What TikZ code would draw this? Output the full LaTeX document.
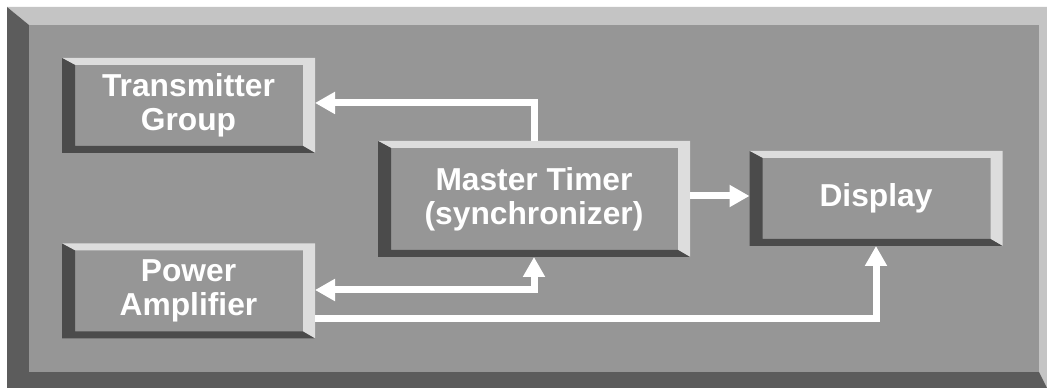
\documentclass[tikz,border=0pt]{standalone}
\usepackage{fontspec}
\setmainfont{Liberation Sans}
\usetikzlibrary{arrows.meta}
\definecolor{framelite}{HTML}{C4C4C4}
\definecolor{framedark}{HTML}{5C5C5C}
\definecolor{face}{HTML}{969696}
\definecolor{boxlite}{HTML}{DDDDDD}
\definecolor{boxdark}{HTML}{4B4B4B}
\tikzset{
  bevelbox/.style={fill=face,text=white,align=center,inner sep=0pt,outer sep=0pt,
    font=\bfseries\fontsize{23.8}{25.5}\selectfont,
    minimum width=189.75pt,minimum height=71.25pt,
    path picture={
      \path (path picture bounding box.north west) coordinate (bbnw)
            (path picture bounding box.south east) coordinate (bbse);
      \fill[boxlite] (bbnw) -| (bbse) -- ++(-9pt,5.25pt) |- ([xshift=9.75pt,yshift=-5.25pt]bbnw) -- cycle;
      \fill[boxdark] (bbnw) |- (bbse) -- ++(-9pt,5.25pt) -| ([xshift=9.75pt,yshift=-5.25pt]bbnw) -- cycle;
    }},
  signal/.style={draw=white,line width=5.25pt,>={Triangle[length=15pt,width=15.75pt]}}
}
\begin{document}
\begin{tikzpicture}[x=0.75pt,y=-0.75pt]
\useasboundingbox[fill=white] (0,0) rectangle (1047,388);
\fill[framelite] (7,7) -- (1047,7) -- (1047,388) -- (1039,372) -- (1039,25) -- (29,25) -- cycle;
\fill[framedark] (7,7) -- (29,25) -- (29,372) -- (1039,372) -- (1047,388) -- (7,388) -- cycle;
\fill[face] (29,25) rectangle (1039,372);
\node[bevelbox] (trans) at (188.5,105.5) {Transmitter\\Group};
\node[bevelbox] (amp) at (188.5,291) {Power\\Amplifier};
\node[bevelbox,minimum width=234pt,minimum height=87pt] (master) at (534,199) {Master Timer\\(synchronizer)};
\node[bevelbox] (disp) at (876,198.5) {Display};
\draw[signal,->] (master.north) |- ([yshift=1.9pt]trans.east);
\draw[signal,->] ([yshift=2.25pt]master.east) -- ([yshift=2.25pt]master.east -| disp.west);
\draw[signal,<->] ([yshift=0.75pt]amp.east) -| (master.south);
\draw[signal,->] ([yshift=-21pt]amp.east) -| (disp.south);
\end{tikzpicture}
\end{document}
